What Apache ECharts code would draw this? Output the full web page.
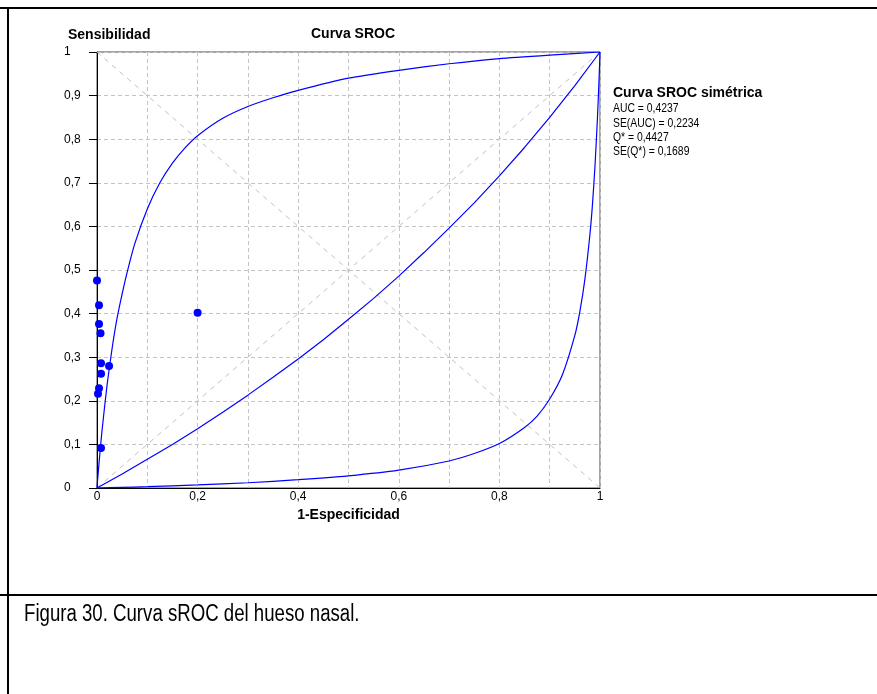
<!DOCTYPE html>
<html><head><meta charset="utf-8">
<script src="https://cdn.jsdelivr.net/npm/echarts@6/dist/echarts.min.js"></script>
<style>html,body{margin:0;padding:0;background:#fff}#c{width:877px;height:694px}</style>
</head><body><div id="c"></div>
<script>
// Study points (1-Especificidad, Sensibilidad)
const studyFpr  = [0, 0.004, 0.004, 0.007, 0.008, 0.024, 0.008, 0.004, 0.002, 0.008, 0.2];
const studySens = [0.476, 0.419, 0.376, 0.355, 0.286, 0.280, 0.262, 0.229, 0.216, 0.092, 0.402];
// Symmetric SROC curve
const srocFpr  = [0, 0.05, 0.1, 0.15, 0.2, 0.25, 0.3, 0.35, 0.4, 0.45, 0.5, 0.55, 0.6, 0.65, 0.7, 0.75, 0.8, 0.85, 0.9, 0.95, 1];
const srocSens = [0, 0.032, 0.066, 0.100, 0.136, 0.174, 0.213, 0.254, 0.296, 0.340, 0.387, 0.435, 0.486, 0.540, 0.596, 0.654, 0.716, 0.781, 0.850, 0.923, 1];
// Upper bound curve
const upperFpr  = [0, 0.001, 0.0025, 0.005, 0.01, 0.02, 0.03, 0.04, 0.05, 0.06, 0.075, 0.1, 0.125, 0.15, 0.175, 0.2, 0.25, 0.3, 0.35, 0.4, 0.5, 0.6, 0.7, 0.8, 0.9, 1];
const upperSens = [0, 0.015, 0.036, 0.070, 0.132, 0.236, 0.320, 0.390, 0.445, 0.495, 0.560, 0.640, 0.700, 0.745, 0.780, 0.808, 0.848, 0.875, 0.895, 0.912, 0.940, 0.958, 0.973, 0.985, 0.993, 1];
// Lower bound curve
const lowerFpr  = [0, 0.05, 0.1, 0.2, 0.3, 0.4, 0.5, 0.6, 0.7, 0.75, 0.8, 0.85, 0.875, 0.9, 0.925, 0.95, 0.96, 0.97, 0.98, 0.985, 0.99, 0.995, 0.998, 1];
const lowerSens = [0, 0.0015, 0.003, 0.007, 0.012, 0.019, 0.028, 0.041, 0.062, 0.079, 0.102, 0.139, 0.165, 0.204, 0.259, 0.350, 0.405, 0.479, 0.582, 0.650, 0.738, 0.850, 0.934, 1];
// Reference diagonals
const diagA = [[0, 0], [1, 1]];
const diagB = [[0, 1], [1, 0]];
// Texts
const chartTitle = 'Curva SROC';
const yName = 'Sensibilidad';
const xName = '1-Especificidad';
const statsTitle = 'Curva SROC simétrica';
const statsLines = ['AUC = 0,4237', 'SE(AUC) = 0,2234', 'Q* = 0,4427', 'SE(Q*) = 0,1689'];
const caption = 'Figura 30. Curva sROC del hueso nasal.';

const zip = (a, b) => a.map((v, i) => [v, b[i]]);
const fmt = v => (v === 0 ? '0' : v === 1 ? '1' : v.toFixed(1).replace('.', ','));
const SANS = '"Liberation Sans", Arial, sans-serif';
const BLUE = '#0000ff';
const dashGrid = { color: '#c4c4c4', type: [4, 3], width: 1 };

const chart = echarts.init(document.getElementById('c'), null, { renderer: 'canvas' });

function txt(t, x, y, font, sx) {
  return { type: 'text', x: x, y: y, scaleX: sx || 1, originX: 0, originY: 0,
    style: { text: t, x: 0, y: 0, font: font, fill: '#000', textAlign: 'left', textVerticalAlign: 'middle', align: 'left', verticalAlign: 'middle' } };
}

const graphics = [
  { type: 'rect', shape: { x: 0, y: 7, width: 877, height: 2 }, style: { fill: '#000' }, silent: true },
  { type: 'rect', shape: { x: 7, y: 7, width: 2, height: 687 }, style: { fill: '#000' }, silent: true },
  { type: 'rect', shape: { x: 0, y: 594, width: 877, height: 2 }, style: { fill: '#000' }, silent: true },
  txt(yName, 68, 35, 'bold 14px ' + SANS, 1),
  txt(statsTitle, 613, 93.5, 'bold 14px ' + SANS, 1),
  txt(caption, 24, 615, '23px ' + SANS, 0.81)
];
statsLines.forEach((t, i) => graphics.push(txt(t, 613, 109 + i * 14.1, '12.5px ' + SANS, 0.83)));

chart.setOption({
  animation: false,
  backgroundColor: '#fff',
  title: { text: chartTitle, left: 311, top: 27, padding: 0, textStyle: { fontFamily: SANS, fontSize: 14, fontWeight: 'bold', color: '#000' } },
  grid: { left: 97, top: 52, width: 503, height: 436, show: true, borderColor: '#4a4a4a', borderWidth: 1, backgroundColor: 'transparent' },
  xAxis: {
    type: 'value', min: 0, max: 1, interval: 0.2,
    name: xName, nameLocation: 'middle', nameGap: 20,
    nameTextStyle: { fontFamily: SANS, fontSize: 14, fontWeight: 'bold', color: '#000' },
    axisLine: { show: true, lineStyle: { color: '#000', width: 1 } },
    axisTick: { show: false },
    axisLabel: { formatter: fmt, margin: 3, fontFamily: SANS, fontSize: 12, color: '#000' },
    splitLine: { show: true, lineStyle: dashGrid },
    minorTick: { show: false, splitNumber: 2 },
    minorSplitLine: { show: true, lineStyle: dashGrid }
  },
  yAxis: {
    type: 'value', min: 0, max: 1, interval: 0.1,
    axisLine: { show: true, lineStyle: { color: '#000', width: 1 } },
    axisTick: { show: true, length: 8, lineStyle: { color: '#000' } },
    axisLabel: { formatter: fmt, margin: 33, align: 'left', fontFamily: SANS, fontSize: 12, color: '#000' },
    splitLine: { show: true, lineStyle: dashGrid }
  },
  series: [
    { type: 'line', data: diagA, showSymbol: false, silent: true, lineStyle: { color: '#c0c0c0', width: 1, type: [5, 5] }, z: 1 },
    { type: 'line', data: diagB, showSymbol: false, silent: true, lineStyle: { color: '#c0c0c0', width: 1, type: [5, 5] }, z: 1 },
    { type: 'line', data: zip(upperFpr, upperSens), showSymbol: false, smooth: 0.2, lineStyle: { color: BLUE, width: 1.2 }, z: 3 },
    { type: 'line', data: zip(srocFpr, srocSens), showSymbol: false, lineStyle: { color: BLUE, width: 1.2 }, z: 3 },
    { type: 'line', data: zip(lowerFpr, lowerSens), showSymbol: false, smooth: 0.2, lineStyle: { color: BLUE, width: 1.2 }, z: 3 },
    { type: 'scatter', data: zip(studyFpr, studySens), symbol: 'circle', symbolSize: 8, itemStyle: { color: BLUE, opacity: 1 }, z: 4 }
  ],
  graphic: graphics
});
</script>
</body></html>
